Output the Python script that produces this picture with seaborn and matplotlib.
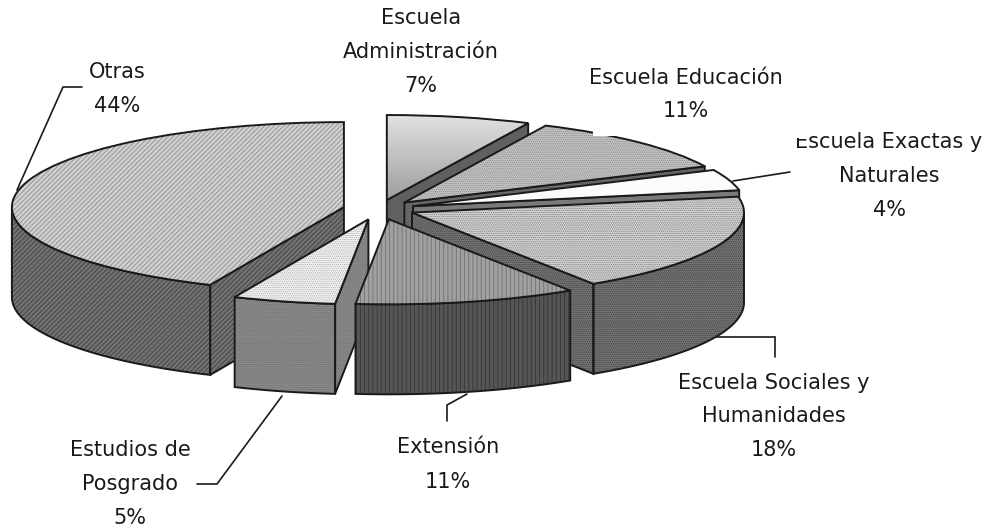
import numpy as np
import seaborn as sns
import matplotlib
matplotlib.use("Agg")
import matplotlib.pyplot as plt
from matplotlib.patches import Polygon, Wedge, Rectangle

categories = ["Escuela\nAdministración", "Escuela Educación", "Escuela Exactas y\nNaturales",
              "Escuela Sociales y\nHumanidades", "Extensión", "Estudios de\nPosgrado", "Otras"]
values = [7.0, 11.0, 4.0, 18.8, 10.8, 5.0, 43.4]
pct_labels = ["7%", "11%", "4%", "18%", "11%", "5%", "44%"]
explode = [0.108, 0.108, 0.108, 0.108, 0.125, 0.125, 0.108]

top_face = ["#c8c8c8", "#c4c4c4", "#fbfbfb", "#d2d2d2", "#a0a0a0", "#f6f6f6", "#d0d0d0"]
top_hatch = ["", "........", "", "........", "||||", "........", "///////"]
top_ink = ["k", "#8a8a8a", "k", "#808080", "#707070", "#a8a8a8", "#8e8e8e"]
side_face = ["#606060", "#707070", "#7a7a7a", "#747474", "#555555", "#8a8a8a", "#727272"]
side_hatch = ["", "........", "", "........", "||||", "........", "///////"]
side_ink = ["k", "#4c4c4c", "k", "#444444", "#363636", "#707070", "#404040"]
# back to front
draw_order = [6, 0, 1, 2, 3, 5, 4]

# pixel layout of the reference
WIDTH, HEIGHT = 990, 529
CX, CY = 379, 209
RX, RY = 332, 85
DEPTH = 90 / RY
EDGE = 1.4


def px(x, y):
    return (x - CX) / RX, (CY - y) / RY


def layered(verts_patch, outline_patch, face, hatch, ink, z):
    # hatch takes its colour from the edge, so the black outline goes on a second patch
    verts_patch.set(facecolor=face, edgecolor=ink, hatch=hatch, linewidth=0, zorder=z)
    outline_patch.set(facecolor="none", edgecolor="k", linewidth=EDGE, zorder=z + 0.1, joinstyle="miter")
    ax.add_patch(outline_patch)


def arc_wall(cx, cy, t1, t2):
    t = np.radians(np.linspace(t1, t2, 60))
    xs, ys = cx + np.cos(t), cy + np.sin(t)
    return np.r_[np.c_[xs, ys], np.c_[xs[::-1], ys[::-1] - DEPTH]]


def radial_wall(cx, cy, theta):
    t = np.radians(theta)
    x, y = cx + np.cos(t), cy + np.sin(t)
    return [(cx, cy), (x, y), (x, y - DEPTH), (cx, cy - DEPTH)]


sns.set_theme(style="white")
plt.rcParams["font.family"] = ["DejaVu Sans"]
plt.rcParams["hatch.linewidth"] = 0.6

fig = plt.figure(figsize=(WIDTH / 100, HEIGHT / 100), dpi=100)
ax = fig.add_axes([0, 0, 1, 1])

wedges, _ = ax.pie(values, explode=explode, startangle=90, counterclock=False, radius=1)

for order, i in enumerate(draw_order):
    w = wedges[i]
    z = 2 + order * 3
    cx, cy = w.center
    t1, t2 = w.theta1, w.theta2

    # outer wall, only the part on the front half of the rim
    for shift in (0, -360, 360):
        a, b = max(t1 + shift, -180), min(t2 + shift, 0)
        if b > a:
            p = Polygon(arc_wall(cx, cy, a, b), closed=True)
            q = Polygon(arc_wall(cx, cy, a, b), closed=True)
            ax.add_patch(p)
            layered(p, q, side_face[i], side_hatch[i], side_ink[i], z)

    # cut faces turned to the viewer
    for theta, sign in ((t1, -1), (t2, 1)):
        n = np.radians(theta + 90 * sign)
        if np.sin(n) < -1e-6:
            p = Polygon(radial_wall(cx, cy, theta), closed=True)
            q = Polygon(radial_wall(cx, cy, theta), closed=True)
            ax.add_patch(p)
            layered(p, q, side_face[i], side_hatch[i], side_ink[i], z)

    q = Wedge((cx, cy), 1, t1, t2)
    layered(w, q, top_face[i], top_hatch[i], top_ink[i], z + 1)

# the first slice has a vertical fade instead of a pattern
w = wedges[0]
fade = np.linspace(0.88, 0.62, 64).reshape(-1, 1)
img = ax.imshow(fade, cmap="gray", vmin=0, vmax=1, aspect="auto", zorder=w.get_zorder() + 0.05,
                extent=(w.center[0], w.center[0] + 1, w.center[1], w.center[1] + 1))
img.set_clip_path(w)

ax.set_aspect("auto")
ax.set_xlim(px(0, 0)[0], px(WIDTH, 0)[0])
ax.set_ylim(px(0, HEIGHT)[1], px(0, 0)[1])
ax.axis("off")

# leader lines
leaders = [
    [(17, 190), (63, 87), (82, 87)],
    [(733, 181), (771, 175), (790, 172)],
    [(717, 337), (775, 337), (775, 357)],
    [(447, 421), (447, 405), (467, 394)],
    [(197, 484), (217, 484), (282, 396)],
]
for line in leaders:
    xs, ys = zip(*[px(*pt) for pt in line])
    ax.plot(xs, ys, color="k", lw=1.2, zorder=40, solid_joinstyle="miter")

# the label boxes bite into the chart here
x0, y0 = px(593, 136)
x1, y1 = px(625, 100)
ax.add_patch(Rectangle((x0, y0), x1 - x0, y1 - y0, fc="white", ec="none", zorder=41))

# centre x and centre y of the first line of each label
label_pos = [(421, 18), (686, 78), (889, 142), (774, 383), (448, 447), (130, 450), (117, 72)]
line_gap = [34, 33, 34, 33.5, 35, 34, 34]
for i, (x, y) in enumerate(label_pos):
    lines = categories[i].split("\n") + [pct_labels[i]]
    for k, txt in enumerate(lines):
        tx, ty = px(x, y + k * line_gap[i])
        ax.text(tx, ty, txt, ha="center", va="center", fontsize=15, color="k", zorder=50)

# top corner of the E in "Escuela Exactas y" is cut off in the source
x0, y0 = px(793, 138)
x1, y1 = px(807, 128)
ax.add_patch(Rectangle((x0, y0), x1 - x0, y1 - y0, fc="white", ec="none", zorder=51))

plt.savefig("out.png", dpi=100, facecolor="white")
